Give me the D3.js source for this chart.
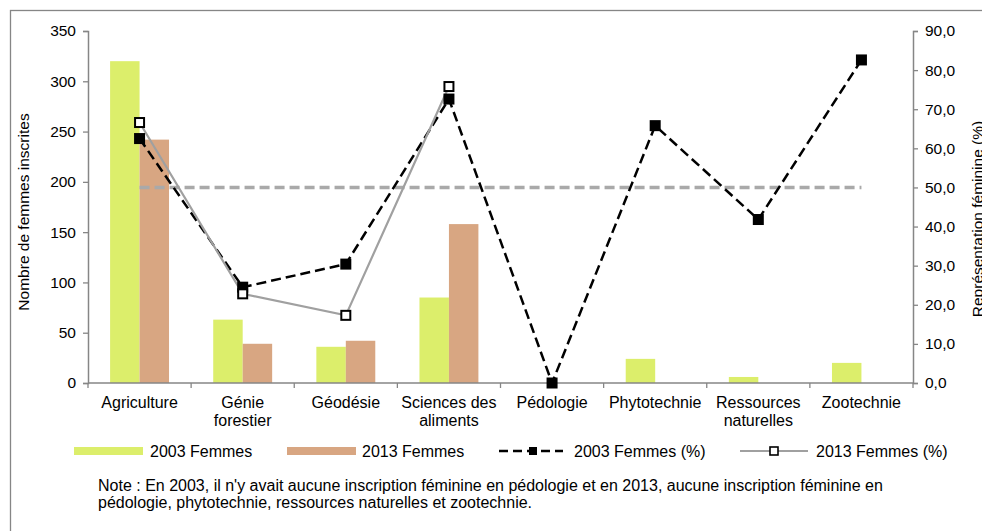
<!DOCTYPE html>
<html>
<head>
<meta charset="utf-8">
<script src="https://cdn.jsdelivr.net/npm/d3@7"></script>
<style>
  html, body { margin: 0; padding: 0; background: #fff; }
  svg text { font-family: "Liberation Sans", Arial, sans-serif; fill: #000; }
</style>
</head>
<body>
<svg id="chart" width="982" height="531"></svg>
<script>
// Programmes and enrolment of women, 2003 vs 2013
const categories = ["Agriculture", "Génie forestier", "Géodésie", "Sciences des aliments",
                    "Pédologie", "Phytotechnie", "Ressources naturelles", "Zootechnie"];
const categoryLines = [["Agriculture"], ["Génie", "forestier"], ["Géodésie"], ["Sciences des", "aliments"],
                       ["Pédologie"], ["Phytotechnie"], ["Ressources", "naturelles"], ["Zootechnie"]];
const femmes2003 = [320, 63, 36, 85, 0, 24, 6, 20];
const femmes2013 = [242, 39, 42, 158, null, null, null, null];
const pct2003 = [62.5, 24.5, 30.4, 72.6, 0, 65.8, 41.8, 82.6];
const pct2013 = [66.6, 22.8, 17.3, 75.8, null, null, null, null];
const parite = [50, 50, 50, 50, 50, 50, 50, 50];
const leftTicks = [0, 50, 100, 150, 200, 250, 300, 350];
const rightTicks = [0, 10, 20, 30, 40, 50, 60, 70, 80, 90];
const noteLines = [
  "Note : En 2003, il n'y avait aucune inscription féminine en pédologie et en 2013, aucune inscription féminine en",
  "pédologie, phytotechnie, ressources naturelles et zootechnie."
];

const colors = { b2003: "#dcee6b", b2013: "#d8a682", axis: "#868686", l2013: "#a0a0a0", ref: "#a9a9a9" };
const fs = 15.5;
const fsNote = 16;

const svg = d3.select("#chart");
const plot = { left: 88, right: 913, top: 31, bottom: 383 };

// Outer frame
svg.append("rect").attr("x", 10.5).attr("y", 10.5).attr("width", 990).attr("height", 540)
  .attr("fill", "none").attr("stroke", colors.axis).attr("stroke-width", 1.3);

const x = d3.scaleBand().domain(categories).range([plot.left, plot.right]).padding(0);
const yL = d3.scaleLinear().domain([0, 350]).range([plot.bottom, plot.top]);
const yR = d3.scaleLinear().domain([0, 90]).range([plot.bottom, plot.top]);
const bw = x.bandwidth() / 3.5;
const cx = c => x(c) + x.bandwidth() / 2;

// Bars
const g = svg.append("g");
g.selectAll(".b03").data(categories).join("rect")
  .attr("x", c => cx(c) - bw).attr("width", bw)
  .attr("y", (c, i) => yL(femmes2003[i])).attr("height", (c, i) => yL(0) - yL(femmes2003[i]))
  .attr("fill", colors.b2003);
g.selectAll(".b13").data(categories.filter((c, i) => femmes2013[i] != null)).join("rect")
  .attr("x", c => cx(c)).attr("width", bw)
  .attr("y", c => yL(femmes2013[categories.indexOf(c)]))
  .attr("height", c => yL(0) - yL(femmes2013[categories.indexOf(c)]))
  .attr("fill", colors.b2013);

// Axes
const axL = d3.axisLeft(yL).tickValues(leftTicks).tickSize(5).tickPadding(7);
const axR = d3.axisRight(yR).tickValues(rightTicks).tickSize(5).tickPadding(7)
  .tickFormat(d => d3.format(".1f")(d).replace(".", ","));
function styleAxis(sel) {
  sel.select(".domain").attr("stroke", colors.axis).attr("stroke-width", 1.5);
  sel.selectAll(".tick line").attr("stroke", colors.axis).attr("stroke-width", 1.3);
  sel.selectAll(".tick text").attr("font-size", fs).attr("font-family", "Liberation Sans, Arial, sans-serif").attr("fill", "#000");
}
svg.append("g").attr("transform", `translate(${plot.left},0)`).call(axL).call(styleAxis);
svg.append("g").attr("transform", `translate(${plot.right},0)`).call(axR).call(styleAxis);

// Category axis with ticks at category boundaries
const xa = svg.append("g");
xa.append("line").attr("x1", plot.left).attr("x2", plot.right).attr("y1", plot.bottom).attr("y2", plot.bottom)
  .attr("stroke", colors.axis).attr("stroke-width", 1.5);
xa.selectAll(".xt").data(categories.concat([null])).join("line")
  .attr("x1", (c, i) => plot.left + i * x.step()).attr("x2", (c, i) => plot.left + i * x.step())
  .attr("y1", plot.bottom).attr("y2", plot.bottom + 5).attr("stroke", colors.axis).attr("stroke-width", 1.3);
xa.selectAll(".xl").data(categories).join("text")
  .attr("text-anchor", "middle").attr("font-size", fsNote)
  .attr("x", c => cx(c)).attr("y", 408)
  .each(function(c, i) {
    d3.select(this).selectAll("tspan").data(categoryLines[i]).join("tspan")
      .attr("x", cx(c)).attr("dy", (d, j) => j === 0 ? 0 : 17.5).text(d => d);
  });

// Axis titles
svg.append("text").attr("transform", "translate(29,212) rotate(-90)").attr("text-anchor", "middle")
  .attr("font-size", fs).text("Nombre de femmes inscrites");
svg.append("text").attr("transform", "translate(983,219) rotate(-90)").attr("text-anchor", "middle")
  .attr("font-size", fs).text("Représentation féminine (%)");

// 50 % parity line
const lineR = d3.line().defined(d => d.v != null).x(d => cx(d.c)).y(d => yR(d.v));
const toPts = arr => categories.map((c, i) => ({ c, v: arr[i] }));
svg.append("path").datum(toPts(parite)).attr("d", lineR)
  .attr("fill", "none").attr("stroke", colors.ref).attr("stroke-width", 3.5).attr("stroke-dasharray", "10,5");

// 2003 percentage line
svg.append("path").datum(toPts(pct2003)).attr("d", lineR)
  .attr("fill", "none").attr("stroke", "#000").attr("stroke-width", 2.5).attr("stroke-dasharray", "10,5");
// 2013 percentage line
svg.append("path").datum(toPts(pct2013)).attr("d", lineR)
  .attr("fill", "none").attr("stroke", colors.l2013).attr("stroke-width", 2.2);

const ms = 11;
svg.selectAll(".m03").data(toPts(pct2003)).join("rect")
  .attr("x", d => cx(d.c) - ms / 2).attr("y", d => yR(d.v) - ms / 2)
  .attr("width", ms).attr("height", ms).attr("fill", "#000");
svg.selectAll(".m13").data(toPts(pct2013).filter(d => d.v != null)).join("rect")
  .attr("x", d => cx(d.c) - (ms - 2) / 2).attr("y", d => yR(d.v) - (ms - 2) / 2)
  .attr("width", ms - 2).attr("height", ms - 2).attr("fill", "#fff").attr("stroke", "#000").attr("stroke-width", 2);

// Legend
const ly = 451;
const lg = svg.append("g");
lg.append("rect").attr("x", 74).attr("y", ly - 4).attr("width", 69).attr("height", 8).attr("fill", colors.b2003);
lg.append("text").attr("x", 150).attr("y", ly + 5.5).attr("font-size", fsNote).text("2003 Femmes");
lg.append("rect").attr("x", 287).attr("y", ly - 4).attr("width", 69).attr("height", 8).attr("fill", colors.b2013);
lg.append("text").attr("x", 362).attr("y", ly + 5.5).attr("font-size", fsNote).text("2013 Femmes");
lg.append("line").attr("x1", 499).attr("x2", 563).attr("y1", ly).attr("y2", ly)
  .attr("stroke", "#000").attr("stroke-width", 2.5).attr("stroke-dasharray", "9,5");
lg.append("rect").attr("x", 529).attr("y", ly - 4).attr("width", 8).attr("height", 8).attr("fill", "#000");
lg.append("text").attr("x", 574).attr("y", ly + 5.5).attr("font-size", fsNote).text("2003 Femmes (%)");
lg.append("line").attr("x1", 740).attr("x2", 808).attr("y1", ly).attr("y2", ly)
  .attr("stroke", colors.l2013).attr("stroke-width", 2.2);
lg.append("rect").attr("x", 770).attr("y", ly - 4).attr("width", 8).attr("height", 8)
  .attr("fill", "#fff").attr("stroke", "#000").attr("stroke-width", 1.6);
lg.append("text").attr("x", 816).attr("y", ly + 5.5).attr("font-size", fsNote).text("2013 Femmes (%)");

// Note
svg.append("g").selectAll("text").data(noteLines).join("text")
  .attr("x", 98).attr("y", (d, i) => 491 + i * 17).attr("font-size", fsNote).text(d => d);
</script>
</body>
</html>
